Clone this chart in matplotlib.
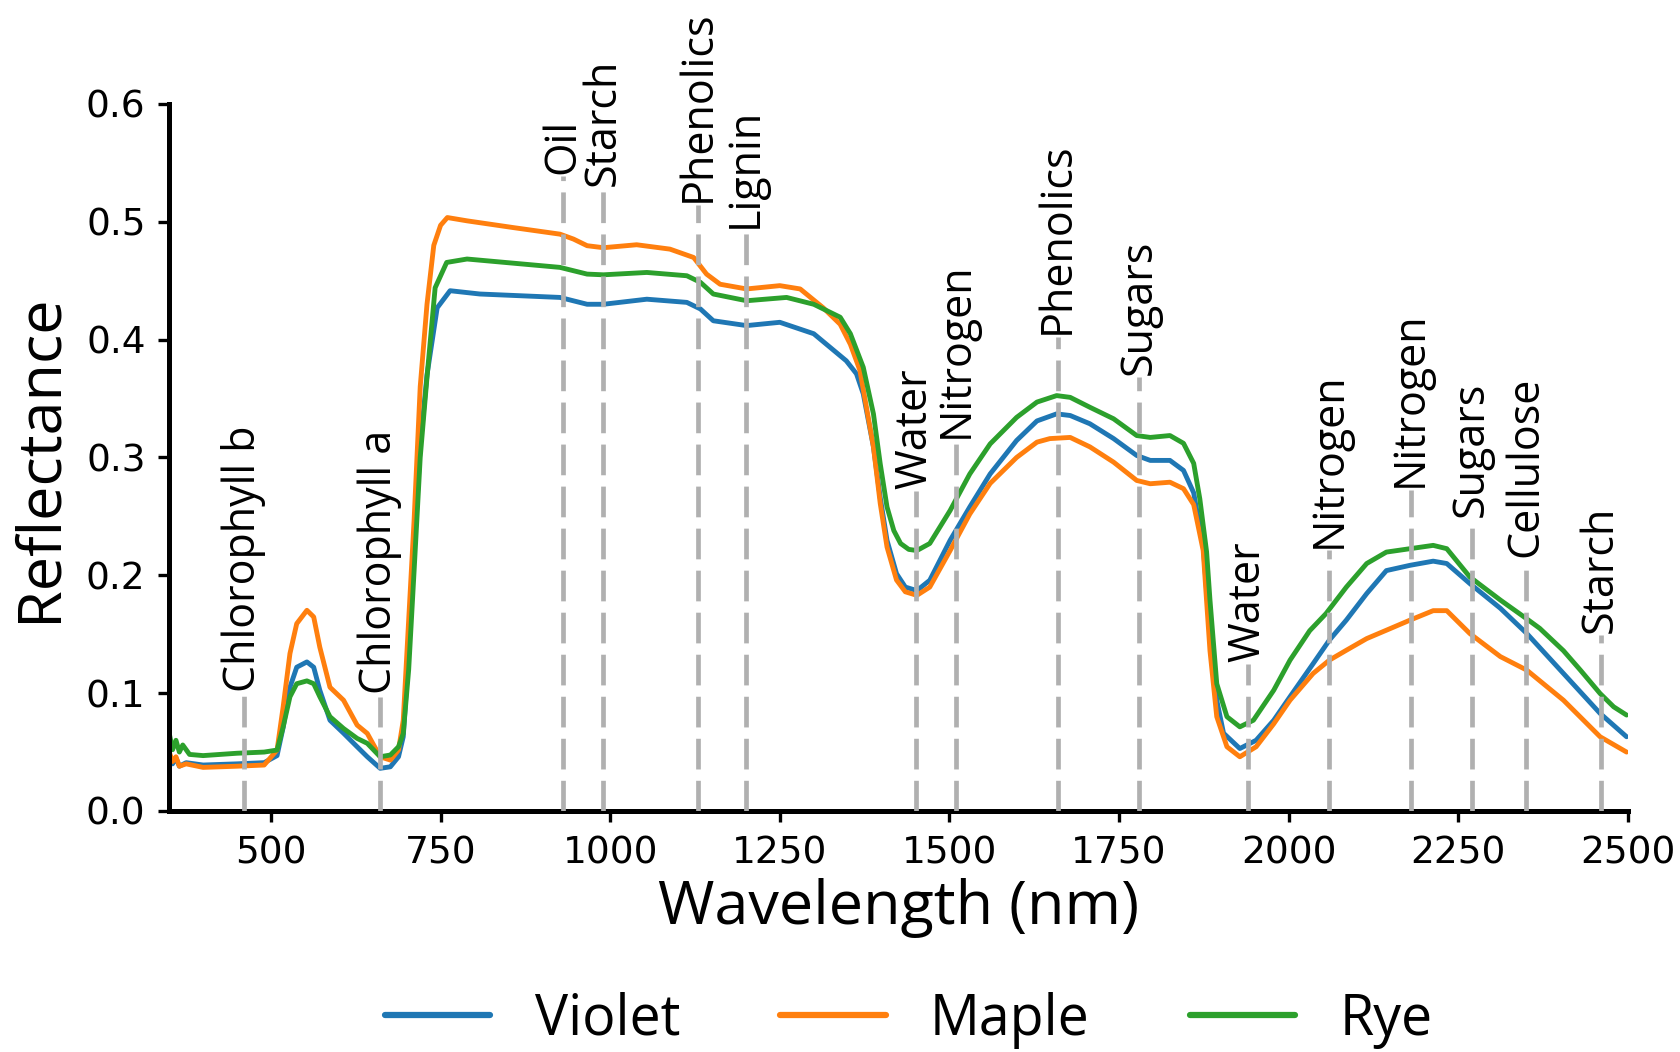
import numpy as np
import matplotlib
matplotlib.use("Agg")
import matplotlib.pyplot as plt

# Leaf reflectance spectra (wavelength in nm, reflectance 0-1)
violet_wl = [350, 355, 360, 365, 375, 400, 450, 490, 509, 518, 528, 538, 553, 563, 572, 587,
             607, 627, 642, 661, 676, 688, 695, 703, 711, 720, 730, 745, 764, 808, 926, 966,
             990, 1054, 1113, 1133, 1152, 1201, 1250, 1300, 1348, 1363, 1373, 1388, 1398, 1408,
             1422, 1435, 1452, 1471, 1501, 1530, 1560, 1599, 1629, 1658, 1678, 1707, 1742, 1776,
             1796, 1825, 1845, 1860, 1869, 1874, 1884, 1894, 1904, 1928, 1952, 1978, 2002, 2036,
             2060, 2085, 2115, 2144, 2179, 2213, 2233, 2267, 2312, 2351, 2405, 2459, 2498]
violet_r = [0.048, 0.040, 0.045, 0.038, 0.041, 0.039, 0.040, 0.041, 0.047, 0.071, 0.105, 0.122,
            0.1265, 0.122, 0.1025, 0.077, 0.066, 0.0545, 0.046, 0.0362, 0.0375, 0.046, 0.063,
            0.134, 0.218, 0.31, 0.37, 0.427, 0.4415, 0.4387, 0.4358, 0.430, 0.430, 0.4343,
            0.4316, 0.426, 0.416, 0.4119, 0.4147, 0.405, 0.382, 0.371, 0.354, 0.309, 0.266,
            0.2297, 0.2014, 0.190, 0.187, 0.1958, 0.2297, 0.258, 0.286, 0.3144, 0.331, 0.337,
            0.3356, 0.3286, 0.316, 0.3017, 0.2975, 0.2975, 0.289, 0.270, 0.240, 0.225, 0.15,
            0.094, 0.066, 0.053, 0.060, 0.077, 0.097, 0.125, 0.145, 0.162, 0.1845, 0.204,
            0.2085, 0.212, 0.21, 0.193, 0.172, 0.1506, 0.1167, 0.0828, 0.063]

maple_wl = [350, 355, 360, 365, 375, 400, 450, 490, 509, 518, 528, 538, 553, 563, 572, 587,
            607, 627, 642, 661, 676, 688, 695, 703, 711, 720, 730, 740, 750, 760, 789, 858,
            926, 946, 966, 990, 1039, 1088, 1123, 1142, 1162, 1201, 1250, 1280, 1314, 1339,
            1354, 1368, 1388, 1398, 1408, 1422, 1435, 1452, 1471, 1501, 1530, 1560, 1599, 1629,
            1648, 1678, 1707, 1742, 1776, 1796, 1825, 1845, 1860, 1869, 1874, 1884, 1894, 1909,
            1928, 1952, 1978, 2002, 2036, 2060, 2085, 2115, 2144, 2179, 2213, 2233, 2267, 2312,
            2351, 2405, 2459, 2498]
maple_r = [0.050, 0.042, 0.046, 0.038, 0.040, 0.037, 0.038, 0.039, 0.0517, 0.0884, 0.1336,
           0.159, 0.1703, 0.1647, 0.139, 0.105, 0.094, 0.0729, 0.0658, 0.046, 0.0432, 0.0517,
           0.077, 0.162, 0.247, 0.36, 0.43, 0.48, 0.497, 0.5036, 0.5008, 0.495, 0.4895, 0.4853,
           0.4797, 0.478, 0.4805, 0.4768, 0.4697, 0.4556, 0.447, 0.443, 0.4458, 0.443, 0.427,
           0.413, 0.396, 0.374, 0.309, 0.261, 0.224, 0.196, 0.186, 0.183, 0.190, 0.221, 0.252,
           0.278, 0.300, 0.313, 0.316, 0.317, 0.309, 0.296, 0.2805, 0.2777, 0.279, 0.2735,
           0.260, 0.235, 0.221, 0.136, 0.080, 0.0545, 0.046, 0.0545, 0.074, 0.094, 0.1167,
           0.128, 0.1364, 0.1463, 0.1534, 0.162, 0.170, 0.170, 0.1506, 0.131, 0.1195, 0.094,
           0.063, 0.050]

rye_wl = [350, 355, 360, 365, 370, 380, 400, 450, 490, 509, 518, 528, 538, 553, 563, 572,
          587, 607, 627, 642, 661, 676, 688, 695, 703, 711, 720, 730, 742, 759, 789, 926, 966,
          990, 1054, 1113, 1133, 1152, 1201, 1260, 1300, 1339, 1354, 1373, 1388, 1398, 1408,
          1418, 1428, 1440, 1452, 1471, 1501, 1530, 1560, 1599, 1629, 1658, 1678, 1707, 1742,
          1776, 1796, 1825, 1845, 1860, 1869, 1879, 1884, 1894, 1909, 1928, 1948, 1978, 2002,
          2031, 2055, 2085, 2115, 2144, 2179, 2213, 2233, 2267, 2312, 2351, 2370, 2405, 2430,
          2459, 2479, 2498]
rye_r = [0.066, 0.052, 0.060, 0.050, 0.056, 0.048, 0.047, 0.049, 0.050, 0.0517, 0.0714,
         0.0969, 0.108, 0.1104, 0.108, 0.097, 0.080, 0.070, 0.0616, 0.0574, 0.046, 0.0475,
         0.0545, 0.0658, 0.12, 0.204, 0.30, 0.368, 0.444, 0.4655, 0.4684, 0.4613, 0.4556,
         0.455, 0.457, 0.4542, 0.4486, 0.4387, 0.433, 0.4358, 0.430, 0.419, 0.405, 0.3765,
         0.337, 0.2946, 0.258, 0.238, 0.227, 0.222, 0.221, 0.227, 0.255, 0.286, 0.3115,
         0.334, 0.347, 0.3525, 0.351, 0.3426, 0.3328, 0.3186, 0.317, 0.3186, 0.312, 0.295,
         0.265, 0.22, 0.179, 0.108, 0.080, 0.0714, 0.077, 0.1025, 0.128, 0.153, 0.1675,
         0.190, 0.210, 0.2197, 0.2226, 0.2254, 0.2226, 0.1986, 0.179, 0.163, 0.155, 0.136,
         0.1195, 0.0997, 0.0884, 0.0814]

# Absorption features
feature_wl = [460, 660, 930, 990, 1130, 1200, 1450, 1510, 1660, 1780,
              1940, 2060, 2180, 2270, 2350, 2460]
feature_names = ["Chlorophyll b", "Chlorophyll a", "Oil", "Starch", "Phenolics", "Lignin",
                 "Water", "Nitrogen", "Phenolics", "Sugars", "Water", "Nitrogen",
                 "Nitrogen", "Sugars", "Cellulose", "Starch"]

series_names = ["Violet", "Maple", "Rye"]
series_colors = ["#1f77b4", "#ff7f0e", "#2ca02c"]

LABEL_FONT = "Open Sans"

fig = plt.figure(figsize=(16.8, 10.52), dpi=100)
ax = fig.add_axes([0.1007, 0.2291, 0.8683, 0.6721])

spectra = [(violet_wl, violet_r), (maple_wl, maple_r), (rye_wl, rye_r)]
for (wl, r), name, col in zip(spectra, series_names, series_colors):
    ax.plot(wl, r, color=col, lw=3.5, label=name, zorder=2,
            solid_joinstyle="round", solid_capstyle="round")

# Feature markers: dashed line up to just above the highest spectrum, then the label
for fwl, fname in zip(feature_wl, feature_names):
    top = max(np.interp(fwl, wl, r) for wl, r in spectra) + 0.05
    ax.plot([fwl, fwl], [0, top], color="#b0b0b0", lw=3.4, dashes=(6.5, 2.4), zorder=3)
    ax.text(fwl, top + 0.002, fname, rotation=90, ha="center", va="bottom",
            fontsize=31, family=LABEL_FONT, color="black", zorder=4)

ax.set_xlim(350, 2500)
ax.set_ylim(0, 0.6)
ax.set_xticks(np.arange(500, 2501, 250))
ax.set_yticks(np.arange(0, 0.61, 0.1))
ax.set_yticklabels([f"{v:.1f}" for v in np.arange(0, 0.61, 0.1)])

for s in ["top", "right"]:
    ax.spines[s].set_visible(False)
for s in ["left", "bottom"]:
    ax.spines[s].set_linewidth(3.6)

ax.tick_params(axis="both", which="major", length=8, width=2.4, direction="out")
ax.tick_params(axis="y", labelsize=27, pad=9)
ax.tick_params(axis="x", labelsize=27, pad=10)

ax.set_xlabel("Wavelength (nm)", fontsize=44, family=LABEL_FONT, labelpad=4)
ax.set_ylabel("Reflectance", fontsize=44, family=LABEL_FONT, labelpad=12)

leg = ax.legend(loc="center", bbox_to_anchor=(0.507, -0.296), ncol=3, frameon=False,
                prop={"family": LABEL_FONT, "size": 40}, handlelength=1.9,
                handletextpad=0.8, columnspacing=1.8)
for line in leg.get_lines():
    line.set_linewidth(4.5)

fig.savefig("out.png", dpi=100, facecolor="white")
